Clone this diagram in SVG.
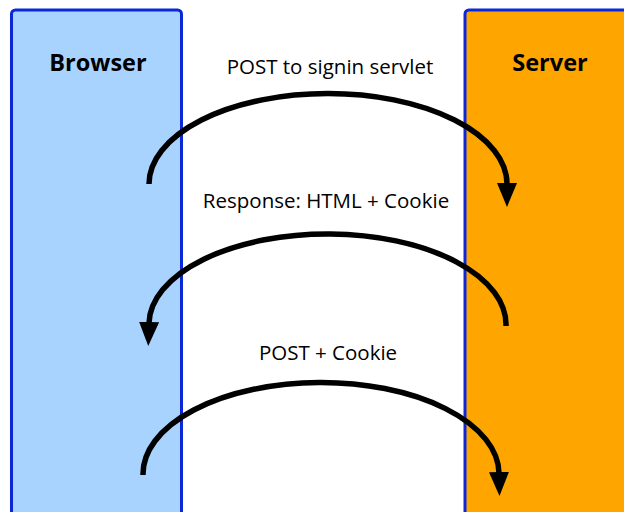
<svg xmlns="http://www.w3.org/2000/svg" width="624" height="512" viewBox="0 0 624 512">
<style>
.lane{stroke:#0a28d8;stroke-width:3}
.title{font-family:"Open Sans","Noto Sans","Liberation Sans",sans-serif;font-weight:bold;font-size:23.5px;fill:#000;text-anchor:middle}
.lbl{font-family:"Open Sans","Noto Sans","Liberation Sans",sans-serif;font-size:20.5px;fill:#000;text-anchor:middle}
.arc{fill:none;stroke:#000;stroke-width:5.5}
</style>
<defs>
<marker id="ah" viewBox="0 0 24 20" refX="1" refY="10" markerWidth="24" markerHeight="20" markerUnits="userSpaceOnUse" orient="auto">
<path d="M0,0 L24,10 L0,20 Z" fill="#000"/>
</marker>
</defs>
<rect width="624" height="512" fill="#fff"/>
<g id="browser">
<rect class="lane" x="11.5" y="10" width="170" height="600" rx="4" fill="#a8d3ff"/>
<text class="title" x="98" y="71">Browser</text>
</g>
<g id="server">
<rect class="lane" x="465" y="10" width="300" height="600" rx="4" fill="#ffa500"/>
<text class="title" x="550" y="71">Server</text>
</g>
<g id="connectors">
<path class="arc" d="M149,184 A179,90.5 0 0 1 507,184" marker-end="url(#ah)"/>
<path class="arc" d="M506,326 A178.5,90.5 0 0 0 149,323" marker-end="url(#ah)"/>
<path class="arc" d="M143,475 A178,91.5 0 0 1 499,473" marker-end="url(#ah)"/>
</g>
<g id="labels">
<text class="lbl" x="330" y="74">POST to signin servlet</text>
<text class="lbl" x="326" y="208">Response: HTML + Cookie</text>
<text class="lbl" x="328" y="360">POST + Cookie</text>
</g>
</svg>
